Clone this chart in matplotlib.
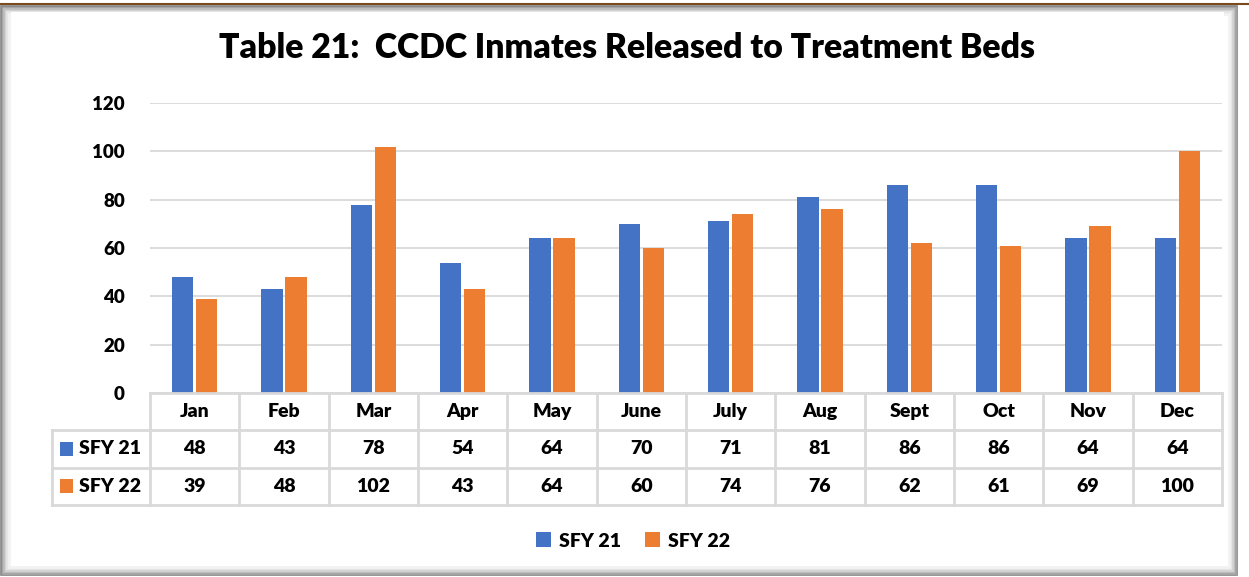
import matplotlib
matplotlib.use("Agg")
import matplotlib.pyplot as plt
from matplotlib.patches import Patch, Rectangle
from matplotlib.lines import Line2D

# datos
meses = ["Jan", "Feb", "Mar", "Apr", "May", "June", "July", "Aug", "Sept", "Oct", "Nov", "Dec"]
sfy21 = [48, 43, 78, 54, 64, 70, 71, 81, 86, 86, 64, 64]
sfy22 = [39, 48, 102, 43, 64, 60, 74, 76, 62, 61, 69, 100]
series = ["SFY 21", "SFY 22"]
y_ticks = [0, 20, 40, 60, 80, 100, 120]

AZUL = "#4472C4"
NARANJA = "#ED7D31"
GRIS = "#D9D9D9"
PESO = "heavy"

plt.rcParams["font.family"] = ["Lato", "DejaVu Sans"]
plt.rcParams["font.weight"] = PESO

W, H = 1249, 577
fig = plt.figure(figsize=(W / 100, H / 100), dpi=100)
fig.patch.set_facecolor("white")


def fx(px):
    return px / W


def fy(py):
    return 1 - py / H


# marco con sombra
for i, c in enumerate(["#8c8c8c", "#a6a6a6", "#bfbfbf", "#d4d4d4", "#e6e6e6", "#f2f2f2"]):
    fig.patches.append(Rectangle((fx(1 + i * 1.5), fy(574 - i * 1.5)),
                                 fx(W - 14 - i * 3), (574 - 6 - i * 3) / H,
                                 transform=fig.transFigure, facecolor="none",
                                 edgecolor=c, linewidth=2.0, zorder=-2))
fig.patches.append(Rectangle((fx(11), fy(563)), fx(W - 36), (563 - 12) / H,
                             transform=fig.transFigure, facecolor="white",
                             edgecolor="none", zorder=-1))
fig.lines.append(Line2D([fx(0), fx(W)], [fy(4), fy(4)], transform=fig.transFigure,
                        color="#7a4a1e", linewidth=1.5, zorder=-1))

# gráfico de barras
ax = fig.add_axes([fx(150), fy(393), fx(1222 - 150), (393 - 103) / H])
ax.set_zorder(2)
ax.patch.set_alpha(0)
x = list(range(len(meses)))
ancho = 0.24
ax.bar([i - 0.135 for i in x], sfy21, width=ancho, color=AZUL, zorder=3)
ax.bar([i + 0.135 for i in x], sfy22, width=ancho, color=NARANJA, zorder=3)
ax.set_xlim(-0.5, 11.5)
ax.set_ylim(0, 120)
ax.set_yticks(y_ticks)
ax.set_yticklabels([str(v) for v in y_ticks], fontsize=13.5, fontweight=PESO)
ax.set_xticks([])
ax.tick_params(axis="y", length=0, pad=18)
ax.grid(axis="y", color=GRIS, linewidth=1.3, zorder=0)
for s in ax.spines.values():
    s.set_visible(False)

# tabla de datos
tx = fig.add_axes([fx(150), fy(505), fx(1222 - 150), (505 - 393) / H])
tx.set_zorder(2)
tx.set_xlim(-0.5, 11.5)
tx.set_ylim(3, 0)
tx.axis("off")
x_izq = -0.5 - (150 - 52) / ((1222 - 150) / 12)
kw = dict(color=GRIS, linewidth=2, clip_on=False)
tx.plot([-0.5, 11.5], [0, 0], **kw)
for yy in [1, 2, 3]:
    tx.plot([x_izq, 11.5], [yy, yy], **kw)
for k in range(13):
    tx.plot([-0.5 + k, -0.5 + k], [0, 3], **kw)
tx.plot([x_izq, x_izq], [1, 3], **kw)

for i, m in enumerate(meses):
    tx.text(i, 0.5, m, ha="center", va="center", fontsize=14, fontweight=PESO)
    tx.text(i, 1.5, str(sfy21[i]), ha="center", va="center", fontsize=14, fontweight=PESO)
    tx.text(i, 2.5, str(sfy22[i]), ha="center", va="center", fontsize=14, fontweight=PESO)

for fila, (nombre, color) in enumerate(zip(series, [AZUL, NARANJA])):
    yc = 1.5 + fila
    tx.add_patch(Rectangle((x_izq + 0.09, yc - 0.19), 0.15, 0.38, facecolor=color,
                           edgecolor="none", clip_on=False))
    tx.text(x_izq + 0.30, yc, nombre, ha="left", va="center", fontsize=14,
            fontweight=PESO, clip_on=False)

# título
fig.text(fx(627), fy(48), "Table 21:  CCDC Inmates Released to Treatment Beds",
         ha="center", va="center", fontsize=24.3, fontweight=PESO)

# leyenda
handles = [Patch(facecolor=AZUL, label=series[0]), Patch(facecolor=NARANJA, label=series[1])]
leg = fig.legend(handles=handles, loc="center", bbox_to_anchor=(fx(633), fy(541)), ncol=2,
                 frameon=False, handlelength=0.8, handleheight=0.8, handletextpad=0.4,
                 columnspacing=1.2, prop={"size": 14, "weight": PESO})

fig.savefig("out.png", dpi=100, facecolor=fig.get_facecolor())
